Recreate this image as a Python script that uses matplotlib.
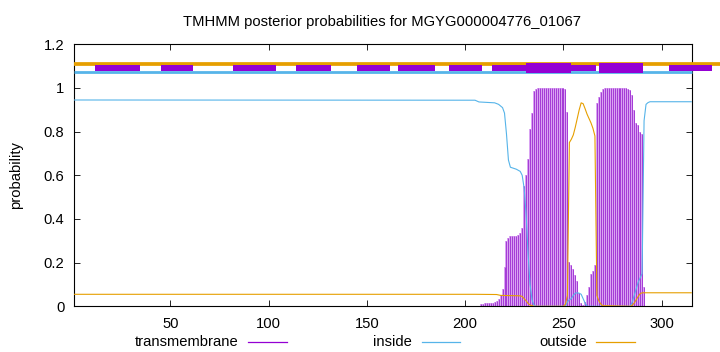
import matplotlib
matplotlib.use("Agg")
import matplotlib.pyplot as plt
from matplotlib.lines import Line2D
from matplotlib.patches import Rectangle

plt.rcParams['font.family'] = ['Liberation Sans', 'DejaVu Sans']

title = "TMHMM posterior probabilities for MGYG000004776_01067"
seq_len = 315

# transmembrane posterior (impulses), residues 208..291
tm_res = list(range(208, 292))
tm_vals = [0.01, 0.012, 0.013, 0.014, 0.015, 0.016, 0.017, 0.02, 0.025, 0.035,
           0.05, 0.08, 0.18, 0.30, 0.315, 0.32, 0.32, 0.32, 0.322, 0.325,
           0.335, 0.36, 0.55, 0.60, 0.675, 0.81, 0.885, 0.985, 0.995, 1.0,
           1.0, 1.0, 1.0, 1.0, 1.0, 1.0, 1.0, 1.0, 1.0, 1.0,
           1.0, 1.0, 1.0, 0.995, 0.89, 0.205, 0.19, 0.17, 0.145, 0.115,
           0.06, 0.015, 0.005, 0.02, 0.05, 0.09, 0.15, 0.16, 0.19, 0.93,
           0.96, 0.98, 0.995, 1.0, 1.0, 1.0, 1.0, 1.0, 1.0, 1.0,
           1.0, 1.0, 1.0, 1.0, 1.0, 0.995, 0.99, 0.97, 0.90, 0.84,
           0.83, 0.80, 0.79, 0.09]

# inside posterior (line), breakpoints
in_res = [1, 205, 207, 215, 217, 219, 220, 221, 222, 223, 226, 228, 229, 230,
          231, 232, 233, 234, 235, 236, 251, 252, 253, 254, 255, 256, 257, 258,
          259, 260, 261, 262, 284, 285, 286, 287, 288, 289, 290, 291, 292, 293,
          294, 315]
in_vals = [0.945, 0.944, 0.936, 0.932, 0.925, 0.91, 0.885, 0.79, 0.67, 0.637,
           0.628, 0.618, 0.60, 0.54, 0.42, 0.24, 0.10, 0.03, 0.005, 0.0,
           0.0, 0.02, 0.03, 0.035, 0.05, 0.06, 0.062, 0.06, 0.055, 0.035,
           0.015, 0.0, 0.0, 0.02, 0.05, 0.08, 0.11, 0.13, 0.15, 0.85,
           0.925, 0.933, 0.937, 0.937]

# outside posterior (line), breakpoints
out_res = [1, 205, 216, 218, 228, 229, 230, 231, 232, 233, 234, 235, 250, 251,
           252, 253, 254, 255, 256, 257, 258, 259, 260, 261, 262, 263, 264, 265,
           266, 267, 268, 269, 270, 284, 285, 286, 287, 288, 289, 290, 291, 315]
out_vals = [0.055, 0.055, 0.054, 0.05, 0.048, 0.045, 0.035, 0.025, 0.013, 0.006,
            0.003, 0.0, 0.0, 0.01, 0.05, 0.75, 0.765, 0.785, 0.82, 0.86,
            0.90, 0.932, 0.928, 0.905, 0.88, 0.86, 0.84, 0.815, 0.78, 0.05,
            0.025, 0.01, 0.003, 0.0, 0.005, 0.015, 0.03, 0.045, 0.058, 0.062,
            0.062, 0.062]

# top topology boxes (start, end)
small_boxes = [(11.8, 34.7), (45.0, 61.7), (82.0, 103.8), (114.1, 131.6),
               (144.9, 161.6), (165.9, 184.7), (191.8, 208.7), (213.8, 266.5),
               (303.9, 325.8)]
big_boxes = [(230.8, 253.6), (268.1, 290.5)]

yticks = [0, 0.2, 0.4, 0.6, 0.8, 1.0, 1.2]
ytick_labels = ["0", "0.2", "0.4", "0.6", "0.8", "1", "1.2"]
xticks = [50, 100, 150, 200, 250, 300]

PURPLE = '#9400D3'
LIGHT_PURPLE = '#d9a3f2'
BLUE = '#56B4E9'
ORANGE = '#E69F00'
FS = 10.6

fig = plt.figure(figsize=(7.2, 3.52), dpi=100)
ax = fig.add_axes([0.1028, 0.1298, 0.8589, 0.7443])

ax.bar(tm_res, tm_vals, width=1.0, color=LIGHT_PURPLE, linewidth=0, zorder=1)
ax.vlines(tm_res, 0, tm_vals, color='#a43ad6', lw=0.7, zorder=2)
ax.plot(in_res, in_vals, color=BLUE, lw=0.8, zorder=3)
ax.plot(out_res, out_vals, color=ORANGE, lw=0.8, zorder=3)

# top lines
ax.plot([1, 330], [1.112, 1.112], color=ORANGE, lw=2.7, clip_on=False, zorder=3,
        solid_capstyle='butt')
ax.plot([1, seq_len + 0.6], [1.073, 1.073], color=BLUE, lw=2.0, zorder=3,
        solid_capstyle='butt', clip_on=False)
for s, e in small_boxes:
    ax.add_patch(Rectangle((s, 1.078), e - s, 0.026, facecolor=PURPLE,
                           edgecolor='none', clip_on=False, zorder=4))
for s, e in big_boxes:
    ax.add_patch(Rectangle((s, 1.067), e - s, 0.049, facecolor=PURPLE,
                           edgecolor='none', clip_on=False, zorder=4))

ax.set_xlim(1, seq_len + 0.6)
ax.set_ylim(0, 1.2)
ax.set_xticks(xticks)
ax.set_yticks(yticks)
ax.set_yticklabels(ytick_labels)
ax.tick_params(direction='in', length=4, width=0.6, top=True, right=True,
               labelsize=FS, colors='black')
ax.tick_params(axis='x', pad=7.5)
ax.tick_params(axis='y', pad=7)
for sp in ax.spines.values():
    sp.set_linewidth(0.8)
    sp.set_color('black')

fig.text(0.531, 1 - 21.7 / 352, title, ha='center', va='center', fontsize=FS)
fig.text(16 / 720, 1 - 175 / 352, "probability", rotation=90, ha='center',
         va='center', fontsize=FS)

# legend
leg_y = 1 - 341.5 / 352
legend_items = [("transmembrane", PURPLE, 239, 248, 287),
                ("inside", BLUE, 412, 422, 460),
                ("outside", ORANGE, 587, 596, 635)]
for label, col, tx, l0, l1 in legend_items:
    fig.text(tx / 720, leg_y, label, ha='right', va='center', fontsize=FS)
    fig.add_artist(Line2D([l0 / 720, l1 / 720], [leg_y, leg_y], color=col,
                          lw=0.9, transform=fig.transFigure))

fig.savefig("out.png", dpi=100)
